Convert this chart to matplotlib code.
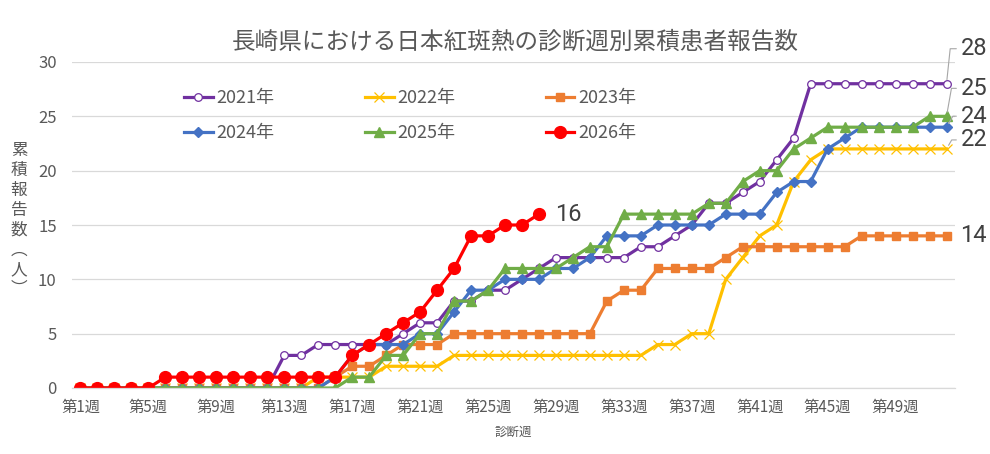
import matplotlib
matplotlib.use("Agg")
import matplotlib.pyplot as plt
import numpy as np

plt.rcParams['font.family'] = ['Noto Sans CJK JP', 'DejaVu Sans']

weeks = list(range(1, 53))
tick_weeks = list(range(1, 53, 4))
tick_labels = [f"第{w}週" for w in tick_weeks]

y2021 = [0]*12 + [3, 3, 4, 4, 4, 4, 4, 5, 6, 6, 8, 8, 9, 9, 10, 11, 12, 12, 12, 12, 12,
                  13, 13, 14, 15, 17, 17, 18, 19, 21, 23] + [28]*9
y2022 = [0]*14 + [1]*4 + [2]*4 + [3]*12 + [4, 4, 5, 5] + [10, 12, 14, 15, 19, 21] + [22]*8
y2023 = [0]*15 + [1, 2, 2, 3, 4, 4, 4] + [5]*9 + [8, 9, 9] + [11]*4 + [12] + [13]*7 + [14]*6
y2024 = [0]*15 + [1, 3, 4, 4, 4, 5, 5, 7, 9, 9, 10, 10, 10, 11, 11, 12, 14, 14, 14] + [15]*4 + \
        [16]*3 + [18, 19, 19, 22, 23] + [24]*6
y2025 = [0]*16 + [1, 1, 3, 3, 5, 5, 8, 8, 9, 11, 11, 11, 11, 12, 13, 13] + [16]*5 + \
        [17, 17, 19, 20, 20, 22, 23] + [24]*6 + [25, 25]
y2026 = [0]*5 + [1]*11 + [3, 4, 5, 6, 7, 9, 11, 14, 14, 15, 15, 16]

series = [
    ("2021年", y2021, dict(color="#7030A0", marker="o", ms=5.5, mfc="white", mec="#7030A0", mew=0.9)),
    ("2022年", y2022, dict(color="#FFC000", marker="x", ms=6.5, mew=0.9)),
    ("2023年", y2023, dict(color="#ED7D31", marker="s", ms=5.5)),
    ("2024年", y2024, dict(color="#4472C4", marker="D", ms=5.5)),
    ("2025年", y2025, dict(color="#70AD47", marker="^", ms=6.5)),
    ("2026年", y2026, dict(color="#FF0000", marker="o", ms=8.5)),
]

fig = plt.figure(figsize=(9.9, 4.54), dpi=100)
ax = fig.add_axes([72/990, 1-388/454, (955-72)/990, 326/454])

lines = {}
handles = {}
for name, vals, st in series:
    x = weeks[:len(vals)]
    ln, = ax.plot(x, vals, lw=2.3, label=name, **st)
    lines[name] = (x, vals)
    handles[name] = ln

ax.set_xlim(0.5, 52.5)
ax.set_ylim(0, 30)
ax.set_yticks(range(0, 31, 5))
ax.set_xticks(tick_weeks)
ax.set_xticklabels(tick_labels)
ax.tick_params(axis='both', length=0, colors="#595959")
ax.tick_params(axis='y', labelsize=12, pad=11)
ax.tick_params(axis='x', labelsize=11, pad=8)
ax.grid(axis='y', color="#d9d9d9", lw=0.9)
ax.set_axisbelow(True)
for s in ['left', 'right', 'top']:
    ax.spines[s].set_visible(False)
ax.spines['bottom'].set_color("#d9d9d9")
ax.spines['bottom'].set_linewidth(0.9)

fig.text(515/990, 1-42/454, "長崎県における日本紅斑熱の診断週別累積患者報告数",
         ha='center', va='center', fontsize=17, color="#595959")
fig.text(513/990, 1-432/454, "診断週", ha='center', va='center', fontsize=9, color="#595959")
fig.text(19/990, 1-220/454, "\n".join("累積報告数︵人︶"), ha='center', va='center',
         fontsize=12, color="#595959", linespacing=1.22)

order = ["2021年", "2024年", "2022年", "2025年", "2023年", "2026年"]
leg = ax.legend([handles[n] for n in order], order,
                loc='upper left', bbox_to_anchor=(175/990, 1-80/454), bbox_transform=fig.transFigure,
                ncol=3, frameon=False, fontsize=13, handlelength=1.6, handletextpad=0.2,
                columnspacing=5.0, labelspacing=0.95, borderpad=0)
for t in leg.get_texts():
    t.set_color("#595959")

lab_font = ['Roboto', 'DejaVu Sans']
k = 0.72
def end_label(name, dx, dy, angB=None):
    x, v = lines[name]
    kw = {}
    if angB is not None:
        kw['arrowprops'] = dict(arrowstyle='-', color="#a6a6a6", lw=0.8, shrinkA=1, shrinkB=3,
                                connectionstyle=f"angle,angleA=0,angleB={angB},rad=0")
    ax.annotate(str(v[-1]), xy=(x[-1], v[-1]), xytext=(dx*k, dy*k), textcoords='offset points',
                ha='left', va='center', fontsize=17, color="#404040", family=lab_font,
                annotation_clip=False, **kw)

end_label("2021年", 14, 35, 84)
end_label("2025年", 14, 28, 80)
end_label("2024年", 14, 11, 60)
end_label("2022年", 14, 9, 60)
end_label("2023年", 14, 0)
end_label("2026年", 16, 0)

fig.savefig("out.png", dpi=100)
